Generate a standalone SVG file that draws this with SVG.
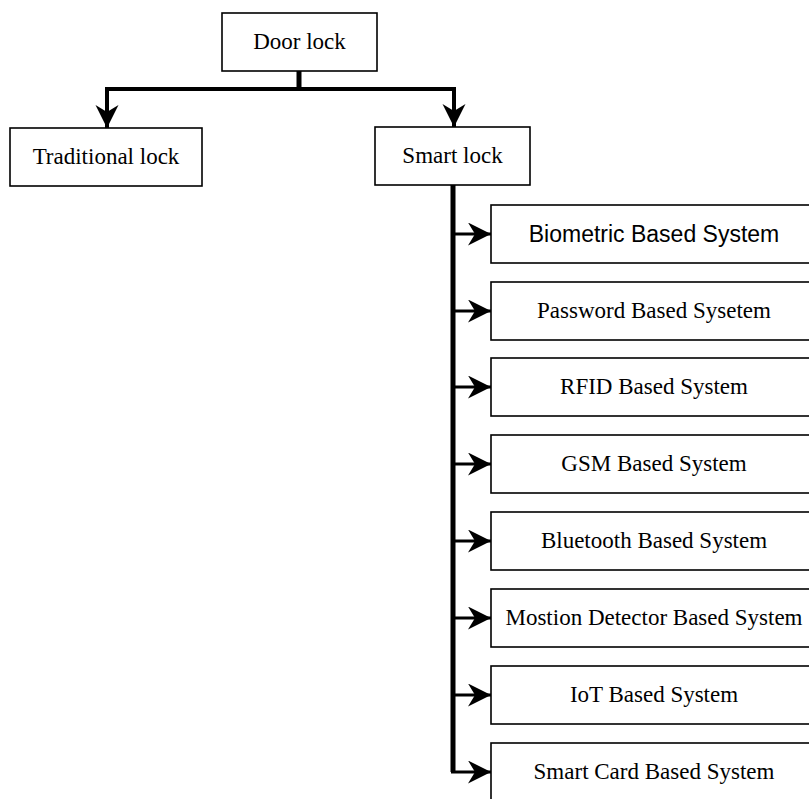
<svg xmlns="http://www.w3.org/2000/svg" width="809" height="799" viewBox="0 0 809 799">
  <style>
    .box { fill: #ffffff; stroke: #000000; stroke-width: 1.6; }
    .lbl { font-family: "Liberation Serif", "Times New Roman", serif; font-size: 23px; fill: #000000; text-anchor: middle; }
    .sans { font-family: "Liberation Sans", Arial, sans-serif; }
    .wire { fill: none; stroke: #000000; stroke-width: 4; }
    .trunk { fill: none; stroke: #000000; stroke-width: 5; }
    .branch { fill: none; stroke: #000000; stroke-width: 3; }
  </style>
  <defs>
    <marker id="arrow" markerUnits="userSpaceOnUse" markerWidth="24" markerHeight="24" refX="23" refY="11.5" orient="auto">
      <path d="M0,0 L23,11.5 L0,23 L7,11.5 Z" fill="#000000"/>
    </marker>
  </defs>
  <rect width="809" height="799" fill="#ffffff"/>

  <!-- connectors -->
  <g id="connectors">
    <path class="trunk" d="M299,71 V89"/>
    <path class="wire" d="M107,89 H454"/>
    <path class="wire" d="M107,87 V128" marker-end="url(#arrow)"/>
    <path class="wire" d="M454,87 V127" marker-end="url(#arrow)"/>
    <path class="trunk" d="M453,185 V772"/>
    <path class="branch" d="M453,234 H491" marker-end="url(#arrow)"/>
    <path class="branch" d="M453,311 H491" marker-end="url(#arrow)"/>
    <path class="branch" d="M453,387 H491" marker-end="url(#arrow)"/>
    <path class="branch" d="M453,464 H491" marker-end="url(#arrow)"/>
    <path class="branch" d="M453,541 H491" marker-end="url(#arrow)"/>
    <path class="branch" d="M453,618 H491" marker-end="url(#arrow)"/>
    <path class="branch" d="M453,695 H491" marker-end="url(#arrow)"/>
    <path class="branch" d="M451,772 H491" marker-end="url(#arrow)"/>
  </g>

  <!-- nodes -->
  <g id="door-lock">
    <rect class="box" x="222" y="13" width="155" height="58"/>
    <text class="lbl" x="299.5" y="49">Door lock</text>
  </g>
  <g id="traditional-lock">
    <rect class="box" x="10" y="128" width="192" height="58"/>
    <text class="lbl" x="106" y="164">Traditional lock</text>
  </g>
  <g id="smart-lock">
    <rect class="box" x="375" y="127" width="155" height="58"/>
    <text class="lbl" x="452.5" y="163">Smart lock</text>
  </g>
  <g id="biometric">
    <rect class="box" x="491" y="205" width="330" height="58"/>
    <text class="lbl sans" x="654" y="242">Biometric Based System</text>
  </g>
  <g id="password">
    <rect class="box" x="491" y="282" width="330" height="58"/>
    <text class="lbl" x="654" y="318">Password Based Sysetem</text>
  </g>
  <g id="rfid">
    <rect class="box" x="491" y="358" width="330" height="58"/>
    <text class="lbl" x="654" y="394">RFID Based System</text>
  </g>
  <g id="gsm">
    <rect class="box" x="491" y="435" width="330" height="58"/>
    <text class="lbl" x="654" y="471">GSM Based System</text>
  </g>
  <g id="bluetooth">
    <rect class="box" x="491" y="512" width="330" height="58"/>
    <text class="lbl" x="654" y="548">Bluetooth Based System</text>
  </g>
  <g id="motion">
    <rect class="box" x="491" y="589" width="330" height="58"/>
    <text class="lbl" x="654" y="625">Mostion Detector Based System</text>
  </g>
  <g id="iot">
    <rect class="box" x="491" y="666" width="330" height="58"/>
    <text class="lbl" x="654" y="702">IoT Based System</text>
  </g>
  <g id="smart-card">
    <rect class="box" x="491" y="743" width="330" height="70"/>
    <text class="lbl" x="654" y="779">Smart Card Based System</text>
  </g>
</svg>
